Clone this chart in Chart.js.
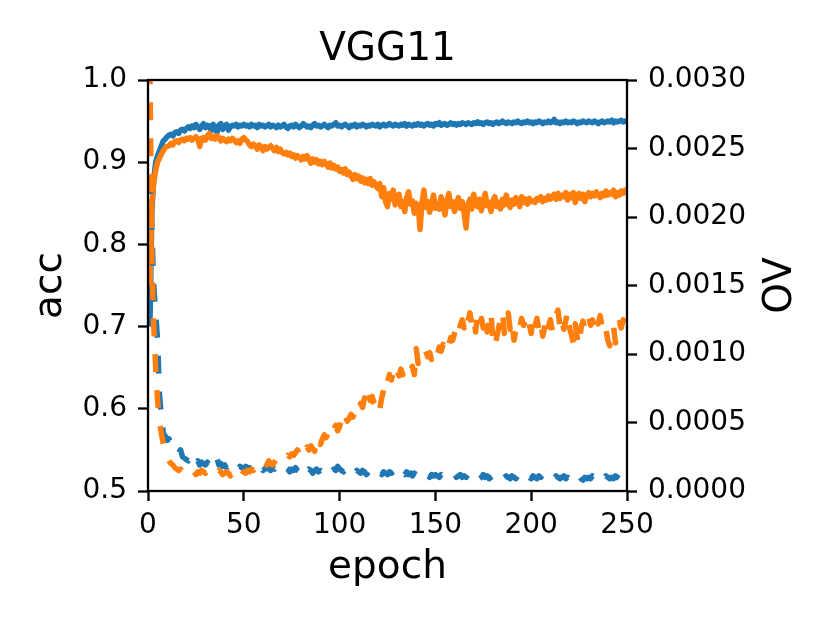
<!DOCTYPE html>
<html>
<head>
<meta charset="utf-8">
<title>VGG11</title>
<script src="https://cdn.jsdelivr.net/npm/chart.js@4.4.1/dist/chart.umd.min.js"></script>
<style>
  html, body { margin: 0; padding: 0; background: #fff; }
  #wrap { width: 830px; height: 623px; }
</style>
</head>
<body>
<div id="wrap"><canvas id="chart" width="830" height="623"></canvas></div>
<script>
// epochs 1..250
const epochs = Array.from({ length: 250 }, (_, i) => i + 1);

// accuracy, blue solid (left axis)
const accBlue = [
  0.700, 0.840, 0.880, 0.900, 0.908, 0.914, 0.920, 0.926, 0.928, 0.931,
  0.933, 0.934, 0.932, 0.936, 0.937, 0.935, 0.939, 0.940, 0.938, 0.941,
  0.943, 0.941, 0.944, 0.942, 0.946, 0.943, 0.940, 0.944, 0.947, 0.942,
  0.945, 0.944, 0.938, 0.946, 0.943, 0.936, 0.945, 0.947, 0.940, 0.944,
  0.946, 0.939, 0.943, 0.945, 0.944, 0.946, 0.943, 0.945, 0.944, 0.946,
  0.944, 0.945, 0.943, 0.946, 0.944, 0.945, 0.942, 0.946, 0.944, 0.945,
  0.943, 0.944, 0.946, 0.943, 0.945, 0.944, 0.942, 0.945, 0.943, 0.944,
  0.946, 0.943, 0.941, 0.944, 0.945, 0.943, 0.946, 0.944, 0.942, 0.944,
  0.947, 0.945, 0.943, 0.944, 0.942, 0.945, 0.947, 0.944, 0.945, 0.943,
  0.944, 0.946, 0.944, 0.942, 0.945, 0.944, 0.946, 0.948, 0.944, 0.945,
  0.943, 0.945, 0.946, 0.944, 0.942, 0.945, 0.944, 0.946, 0.943, 0.945,
  0.944, 0.946, 0.945, 0.943, 0.945, 0.944, 0.946, 0.945, 0.944, 0.946,
  0.943, 0.945, 0.946, 0.944, 0.945, 0.947, 0.945, 0.944, 0.946, 0.945,
  0.944, 0.946, 0.945, 0.947, 0.944, 0.946, 0.945, 0.944, 0.946, 0.945,
  0.947, 0.945, 0.946, 0.944, 0.946, 0.947, 0.945, 0.946, 0.944, 0.947,
  0.946, 0.948, 0.945, 0.946, 0.947, 0.945, 0.946, 0.948, 0.946, 0.947,
  0.945, 0.947, 0.946, 0.948, 0.947, 0.946, 0.948, 0.947, 0.946, 0.948,
  0.947, 0.949, 0.947, 0.948, 0.946, 0.948, 0.949, 0.947, 0.948, 0.946,
  0.948, 0.949, 0.947, 0.948, 0.950, 0.948, 0.947, 0.949, 0.948, 0.947,
  0.949, 0.948, 0.950, 0.948, 0.947, 0.949, 0.948, 0.950, 0.948, 0.949,
  0.947, 0.949, 0.948, 0.950, 0.949, 0.947, 0.949, 0.948, 0.950, 0.948,
  0.949, 0.952, 0.948, 0.949, 0.947, 0.949, 0.948, 0.950, 0.948, 0.949,
  0.948, 0.950, 0.949, 0.947, 0.949, 0.948, 0.950, 0.949, 0.948, 0.950,
  0.949, 0.948, 0.950, 0.949, 0.947, 0.949, 0.950, 0.948, 0.949, 0.950,
  0.949, 0.951, 0.948, 0.950, 0.949, 0.950, 0.951, 0.949, 0.950, 0.950
];

// accuracy, orange solid (left axis)
const accOrange = [
  0.750, 0.850, 0.875, 0.890, 0.900, 0.905, 0.910, 0.914, 0.918, 0.919,
  0.920, 0.923, 0.921, 0.925, 0.926, 0.924, 0.927, 0.928, 0.926, 0.929,
  0.928, 0.930, 0.927, 0.929, 0.931, 0.928, 0.919, 0.929, 0.930, 0.927,
  0.932, 0.935, 0.929, 0.931, 0.928, 0.932, 0.930, 0.926, 0.929, 0.927,
  0.925, 0.928, 0.926, 0.929, 0.927, 0.924, 0.926, 0.923, 0.928, 0.930,
  0.927, 0.925, 0.921, 0.919, 0.922, 0.920, 0.916, 0.921, 0.919, 0.914,
  0.919, 0.916, 0.918, 0.920, 0.917, 0.914, 0.918, 0.913, 0.916, 0.912,
  0.910, 0.912, 0.909, 0.911, 0.907, 0.909, 0.905, 0.908, 0.906, 0.903,
  0.907, 0.904, 0.908, 0.903, 0.899, 0.904, 0.900, 0.903, 0.898, 0.901,
  0.897, 0.901, 0.898, 0.894, 0.899, 0.893, 0.896, 0.892, 0.894, 0.889,
  0.891, 0.887, 0.892, 0.885, 0.888, 0.883, 0.879, 0.885, 0.880, 0.883,
  0.877, 0.881, 0.875, 0.879, 0.874, 0.880, 0.872, 0.876, 0.871, 0.868,
  0.874, 0.858, 0.869, 0.852, 0.846, 0.862, 0.855, 0.866, 0.848, 0.856,
  0.861, 0.846, 0.852, 0.840, 0.857, 0.864, 0.849, 0.853, 0.838, 0.850,
  0.846, 0.818, 0.851, 0.866, 0.845, 0.852, 0.839, 0.848, 0.860, 0.844,
  0.850, 0.843, 0.858, 0.847, 0.836, 0.853, 0.862, 0.846, 0.852, 0.840,
  0.849, 0.857, 0.844, 0.852, 0.838, 0.820, 0.848, 0.855, 0.843, 0.861,
  0.850, 0.846, 0.855, 0.841, 0.852, 0.862, 0.847, 0.851, 0.840, 0.853,
  0.858, 0.846, 0.851, 0.843, 0.855, 0.848, 0.860, 0.850, 0.845, 0.854,
  0.849, 0.857, 0.852, 0.846, 0.858, 0.851, 0.855, 0.849, 0.856, 0.852,
  0.853, 0.851, 0.856, 0.854, 0.858, 0.852, 0.856, 0.854, 0.859, 0.855,
  0.857, 0.861, 0.855, 0.862, 0.856, 0.860, 0.858, 0.863, 0.854, 0.861,
  0.857, 0.863, 0.851, 0.859, 0.862, 0.856, 0.861, 0.852, 0.860, 0.863,
  0.858, 0.862, 0.859, 0.864, 0.860, 0.857, 0.862, 0.859, 0.865, 0.860,
  0.863, 0.861, 0.866, 0.858, 0.863, 0.860, 0.865, 0.862, 0.866, 0.864
];

// OV, blue dashed (right axis)
const ovBlue = [
  0.0023, 0.0019, 0.0015, 0.0013, 0.0011, 0.0007, 0.00055, 0.00042, 0.0004, 0.00037,
  0.00038, 0.00035, 0.00034, 0.0003, 0.00031, 0.00028, 0.0003, 0.00025, 0.00024, 0.00023,
  0.00022, 0.00024, 0.00021, 0.00023, 0.0002, 0.00022, 0.00019, 0.00021, 0.0002, 0.00019,
  0.00021, 0.00018, 0.0002, 0.00019, 0.00021, 0.00024, 0.00019, 0.0002, 0.00018, 0.00019,
  0.00017, 0.00019, 0.00018, 0.00017, 0.00019, 0.00018, 0.00016, 0.00018, 0.00017, 0.00016,
  0.00018, 0.00016, 0.00017, 0.00015, 0.00017, 0.00016, 0.00018, 0.00016, 0.00017, 0.00015,
  0.00016, 0.00018, 0.00016, 0.00015, 0.00017, 0.00016, 0.00018, 0.00017, 0.00015, 0.00016,
  0.00015, 0.00017, 0.00016, 0.00014, 0.00016, 0.00015, 0.00017, 0.00015, 0.00014, 0.00016,
  0.00015, 0.00017, 0.00014, 0.00016, 0.00015, 0.00013, 0.00015, 0.00016, 0.00014, 0.00015,
  0.00014, 0.00016, 0.00015, 0.00013, 0.00015, 0.00014, 0.00016, 0.00015, 0.00018, 0.00016,
  0.00015, 0.00014, 0.00016, 0.00014, 0.00013, 0.00015, 0.00014, 0.00013, 0.00015, 0.00014,
  0.00013, 0.00015, 0.00014, 0.00012, 0.00014, 0.00013, 0.00015, 0.00013, 0.00012, 0.00014,
  0.00013, 0.00012, 0.00014, 0.00013, 0.00012, 0.00014, 0.00013, 0.00014, 0.00015, 0.00013,
  0.00014, 0.00016, 0.00013, 0.00012, 0.00014, 0.00012, 0.00013, 0.00011, 0.00013, 0.00012,
  0.00011, 0.00013, 0.00012, 0.00011, 0.00013, 0.00012, 0.0001, 0.00012, 0.00011, 0.00012,
  0.00011, 0.0001, 0.00012, 0.00011, 0.0001, 0.00012, 0.00011, 0.0001, 0.00011, 0.00012,
  0.0001, 0.00011, 0.00012, 0.0001, 0.00011, 0.0001, 0.00012, 0.00011, 0.00009, 0.00011,
  0.0001, 0.00011, 0.00009, 0.0001, 0.00012, 0.0001, 0.00011, 0.00009, 0.0001, 0.00011,
  0.0001, 0.00012, 0.0001, 0.00011, 0.00009, 0.0001, 0.00011, 0.0001, 0.00009, 0.00011,
  0.0001, 0.00009, 0.00011, 0.0001, 0.00012, 0.0001, 0.00009, 0.00011, 0.0001, 0.00009,
  0.00011, 0.0001, 0.00009, 0.00011, 0.0001, 0.00012, 0.0001, 0.00009, 0.0001, 0.00011,
  0.0001, 0.00009, 0.00011, 0.0001, 0.00009, 0.0001, 0.00011, 0.00009, 0.0001, 0.00009,
  0.0001, 0.00008, 0.0001, 0.00009, 0.00011, 0.00009, 0.00008, 0.0001, 0.00009, 0.0001,
  0.00009, 0.00011, 0.0001, 0.00009, 0.0001, 0.00008, 0.0001, 0.00009, 0.00011, 0.0001,
  0.00009, 0.0001, 0.00009, 0.00011, 0.0001, 0.00009, 0.0001, 0.00009, 0.0001, 0.0001
];

// OV, orange dashed (right axis)
const ovOrange = [
  0.0031, 0.0017, 0.0012, 0.0009, 0.00066, 0.0005, 0.00042, 0.00034, 0.00029, 0.00025,
  0.00022, 0.0002, 0.00019, 0.00017, 0.00016, 0.00015, 0.00016, 0.00014, 0.00015, 0.00013,
  0.00014, 0.00015, 0.00013, 0.00014, 0.00012, 0.00014, 0.00013, 0.00015, 0.00014, 0.00013,
  0.00015, 0.00014, 0.00013, 0.00012, 0.00014, 0.00013, 0.00015, 0.00014, 0.00012, 0.00013,
  0.00014, 0.00013, 0.00011, 0.00013, 0.00014, 0.00012, 0.00015, 0.00013, 0.00012, 0.00014,
  0.00013, 0.00015, 0.00014, 0.00016, 0.00015, 0.00017, 0.00019, 0.00018, 0.0002, 0.00019,
  0.00021, 0.00019, 0.00022, 0.0002, 0.00019, 0.00021, 0.00023, 0.00022, 0.00024, 0.00023,
  0.00025, 0.00024, 0.00026, 0.00025, 0.00027, 0.00026, 0.00028, 0.0003, 0.00027, 0.00029,
  0.00031, 0.00028, 0.00032, 0.0003, 0.00033, 0.00031, 0.00029, 0.00037, 0.00039, 0.00034,
  0.00038, 0.00041, 0.00039, 0.00043, 0.00046, 0.00042, 0.00045, 0.00048, 0.00044, 0.00047,
  0.00052, 0.00049, 0.00055, 0.00051, 0.00053, 0.00056, 0.00054, 0.00058, 0.00062, 0.00059,
  0.00064, 0.00061, 0.00068, 0.00063, 0.00071, 0.00066, 0.00069, 0.00064, 0.00062, 0.00066,
  0.0006, 0.00068, 0.00074, 0.00082, 0.00079, 0.00085, 0.00081, 0.00087, 0.00083, 0.00088,
  0.00084, 0.00089, 0.00085, 0.0009, 0.00087, 0.00086, 0.00088, 0.00091, 0.00085, 0.00104,
  0.00093, 0.00097, 0.00095, 0.00099, 0.00102, 0.00098, 0.00101, 0.00096, 0.001, 0.00103,
  0.00099, 0.00105, 0.00102, 0.00107, 0.00104, 0.00109, 0.00106, 0.00112, 0.0011, 0.00115,
  0.00118, 0.00113, 0.00121, 0.00125, 0.00119, 0.00128, 0.00124, 0.0013, 0.00122, 0.00127,
  0.00116, 0.00129, 0.00121, 0.00126, 0.00119, 0.00128, 0.00116, 0.00123, 0.00131, 0.00109,
  0.00105, 0.00112, 0.00119, 0.00125, 0.00131, 0.00115, 0.00121, 0.0013, 0.00118, 0.00124,
  0.0011, 0.00117, 0.00123, 0.00119, 0.00126, 0.00121, 0.00124, 0.00117, 0.00122, 0.00115,
  0.00128, 0.00121, 0.00126, 0.00118, 0.00124, 0.00113, 0.00119, 0.00127, 0.0012, 0.00125,
  0.00117, 0.00122, 0.00129, 0.00132, 0.0012, 0.00126, 0.00118, 0.00124, 0.00131, 0.00119,
  0.00114, 0.00108, 0.00122, 0.00112, 0.00106, 0.00119, 0.00124, 0.00118, 0.00123, 0.00127,
  0.00121, 0.00125, 0.00119, 0.00126, 0.00122, 0.00128, 0.0012, 0.00124, 0.00118, 0.0011,
  0.00106, 0.00114, 0.0012, 0.00108, 0.00117, 0.00123, 0.00119, 0.00125, 0.00121, 0.00124
];

// tick labels
const epochTicks = [0, 50, 100, 150, 200, 250];
const accTicks = [0.5, 0.6, 0.7, 0.8, 0.9, 1.0];
const ovTicks = [0, 0.0005, 0.001, 0.0015, 0.002, 0.0025, 0.003];

const BLUE = '#1f77b4';
const ORANGE = '#ff7f0e';
const FONT = "'DejaVu Sans', 'Liberation Sans', sans-serif";
const LINE_W = 5.5;
const DASH = [18, 18];

Chart.defaults.font.family = FONT;
Chart.defaults.color = '#000';

function toPoints(vals) {
  return epochs.map((e, i) => ({ x: e, y: vals[i] }));
}

function setTicks(list) {
  return scale => { scale.ticks = list.map(v => ({ value: v })); };
}

const tickGrid = {
  display: true,
  drawOnChartArea: false,
  drawTicks: true,
  tickLength: 10,
  tickWidth: 2.3,
  tickColor: '#000'
};

// box around the plot + right axis label drawn bottom-to-top like matplotlib
const framePlugin = {
  id: 'frame',
  afterDatasetsDraw(chart) {
    const { ctx, chartArea: a } = chart;
    ctx.save();
    ctx.strokeStyle = '#000';
    ctx.lineWidth = 2.3;
    ctx.strokeRect(a.left, a.top, a.right - a.left, a.bottom - a.top);
    ctx.restore();
  },
  afterDraw(chart) {
    const { ctx, chartArea: a } = chart;
    ctx.save();
    ctx.translate(791, (a.top + a.bottom) / 2);
    ctx.rotate(-Math.PI / 2);
    ctx.font = '39px ' + FONT;
    ctx.fillStyle = '#000';
    ctx.textAlign = 'center';
    ctx.textBaseline = 'alphabetic';
    ctx.fillText('OV', 0, 0);
    ctx.restore();
  }
};

new Chart(document.getElementById('chart'), {
  type: 'line',
  data: {
    datasets: [
      {
        label: 'acc (blue)',
        data: toPoints(accBlue),
        yAxisID: 'yAcc',
        borderColor: BLUE,
        borderWidth: LINE_W,
        order: 3
      },
      {
        label: 'acc (orange)',
        data: toPoints(accOrange),
        yAxisID: 'yAcc',
        borderColor: ORANGE,
        borderWidth: LINE_W,
        order: 2
      },
      {
        label: 'OV (blue)',
        data: toPoints(ovBlue),
        yAxisID: 'yOv',
        borderColor: BLUE,
        borderWidth: LINE_W,
        borderDash: DASH,
        order: 1
      },
      {
        label: 'OV (orange)',
        data: toPoints(ovOrange),
        yAxisID: 'yOv',
        borderColor: ORANGE,
        borderWidth: LINE_W,
        borderDash: DASH,
        order: 0
      }
    ]
  },
  options: {
    responsive: false,
    animation: false,
    devicePixelRatio: 1,
    elements: {
      point: { radius: 0 },
      line: { tension: 0, borderJoinStyle: 'round', fill: false }
    },
    layout: { padding: 0 },
    plugins: {
      legend: { display: false },
      tooltip: { enabled: false },
      title: {
        display: true,
        text: 'VGG11',
        fullSize: false,
        color: '#000',
        font: { size: 39, weight: 'normal', lineHeight: 1.2 },
        padding: { top: 26, bottom: 7.2 }
      }
    },
    scales: {
      x: {
        type: 'linear',
        position: 'bottom',
        min: 0,
        max: 250,
        afterBuildTicks: setTicks(epochTicks),
        afterFit: s => { s.height = 132; },
        grid: tickGrid,
        border: { display: false },
        ticks: {
          font: { size: 28 },
          padding: 8,
          maxRotation: 0,
          callback: v => String(v)
        },
        title: {
          display: true,
          text: 'epoch',
          font: { size: 39 },
          padding: { top: 0, bottom: 32 }
        }
      },
      yAcc: {
        type: 'linear',
        position: 'left',
        min: 0.5,
        max: 1.0,
        afterBuildTicks: setTicks(accTicks),
        afterFit: s => { s.width = 148; },
        grid: tickGrid,
        border: { display: false },
        ticks: {
          font: { size: 28 },
          padding: 11,
          callback: v => v.toFixed(1)
        },
        title: {
          display: true,
          text: 'acc',
          font: { size: 39 },
          padding: { top: 27, bottom: 0 }
        }
      },
      yOv: {
        type: 'linear',
        position: 'right',
        min: 0,
        max: 0.003,
        afterBuildTicks: setTicks(ovTicks),
        afterFit: s => { s.width = 203; },
        grid: tickGrid,
        border: { display: false },
        ticks: {
          font: { size: 28 },
          padding: 11,
          callback: v => v.toFixed(4)
        }
      }
    }
  },
  plugins: [framePlugin]
});
</script>
</body>
</html>
